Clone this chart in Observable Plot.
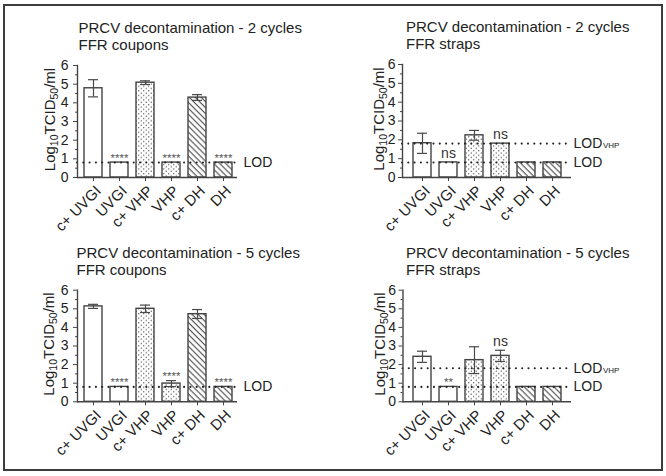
<!DOCTYPE html>
<html>
<head>
<meta charset="utf-8">
<script src="https://cdn.jsdelivr.net/npm/d3@7"></script>
<script src="https://cdn.jsdelivr.net/npm/@observablehq/plot@0.6"></script>
<style>
  body { margin: 0; background: #fff; }
  #chart { position: relative; width: 666px; height: 476px; overflow: hidden; background: #fff;
           font-family: "Liberation Sans", Arial, sans-serif; }
  #border { position: absolute; box-sizing: border-box; left: 3px; top: 4px; width: 660px; height: 467px;
            border: 2px solid #3c3c3c; }
  .panel { position: absolute; }
</style>
</head>
<body>
<svg width="0" height="0" style="position:absolute">
  <defs>
    <pattern id="dots" width="5" height="4.6" patternUnits="userSpaceOnUse">
      <rect width="5" height="4.6" fill="#fff"/>
      <circle cx="1.25" cy="1.15" r="0.65" fill="#444"/>
      <circle cx="3.75" cy="3.45" r="0.65" fill="#444"/>
    </pattern>
    <pattern id="hatch" width="4.2" height="4.2" patternUnits="userSpaceOnUse" patternTransform="rotate(-45)">
      <rect width="4.2" height="4.2" fill="#fff"/>
      <line x1="2" y1="0" x2="2" y2="4.2" stroke="#555" stroke-width="1.2"/>
    </pattern>
  </defs>
</svg>
<div id="chart"><div id="border"></div></div>
<script>
// ---- data ----
const categories = ["c+ UVGI", "UVGI", "c+ VHP", "VHP", "c+ DH", "DH"];
const kinds = ["open", "open", "dots", "dots", "hatch", "hatch"];
const yTicks = [0, 1, 2, 3, 4, 5, 6];
const yMinorTicks = [0.5, 1.5, 2.5, 3.5, 4.5, 5.5];
const LOD = 0.8;
const LOD_VHP = 1.8;

const coupons2Mean  = [4.78, 0.8, 5.08, 0.8, 4.28, 0.8];
const coupons2Low   = [4.32, null, 4.98, null, 4.13, null];
const coupons2High  = [5.24, null, 5.18, null, 4.44, null];
const coupons2Notes = ["", "****", "", "****", "", "****"];

const straps2Mean  = [1.82, 0.8, 2.24, 1.8, 0.8, 0.8];
const straps2Low   = [1.28, null, 1.98, null, null, null];
const straps2High  = [2.35, null, 2.5, null, null, null];
const straps2Notes = ["", "ns", "", "ns", "", ""];

const coupons5Mean  = [5.13, 0.8, 5.0, 0.98, 4.71, 0.8];
const coupons5Low   = [5.02, null, 4.8, 0.82, 4.48, null];
const coupons5High  = [5.24, null, 5.2, 1.14, 4.96, null];
const coupons5Notes = ["", "****", "", "****", "", "****"];

const straps5Mean  = [2.42, 0.8, 2.24, 2.47, 0.8, 0.8];
const straps5Low   = [2.12, null, 1.52, 2.17, null, null];
const straps5High  = [2.72, null, 2.96, 2.77, null, null];
const straps5Notes = ["", "**", "", "ns", "", ""];

const titles = [
  "PRCV decontamination - 2 cycles\nFFR coupons",
  "PRCV decontamination - 2 cycles\nFFR straps",
  "PRCV decontamination - 5 cycles\nFFR coupons",
  "PRCV decontamination - 5 cycles\nFFR straps"
];

// ---- layout (page pixels) ----
const FONT = '"Liberation Sans", Arial, sans-serif';
const panels = [
  {title: titles[0], mean: coupons2Mean, low: coupons2Low, high: coupons2High, notes: coupons2Notes, lods: [LOD],
   left: 0, top: 0, W: 325, H: 232, axisX: 77, xEnd: 237, barStart: 84, barEnd: 233, y6: 65, y0: 177,
   titleDx: 1, tickPad: 5, labelOff: 22, lodInset: -3, lodDx: 6},
  {title: titles[1], mean: straps2Mean, low: straps2Low, high: straps2High, notes: straps2Notes, lods: [LOD, LOD_VHP],
   left: 325, top: 0, W: 335, H: 232, axisX: 402, xEnd: 571, barStart: 412, barEnd: 562, y6: 64, y0: 177,
   titleDx: 3.5, tickPad: 3, labelOff: 18, lodInset: 0, lodDx: 2},
  {title: titles[2], mean: coupons5Mean, low: coupons5Low, high: coupons5High, notes: coupons5Notes, lods: [LOD],
   left: 0, top: 232, W: 325, H: 236, axisX: 77, xEnd: 237, barStart: 83, barEnd: 233, y6: 289.7, y0: 401.3,
   titleDx: -1, tickPad: 5, labelOff: 23, lodInset: -3, lodDx: 6},
  {title: titles[3], mean: straps5Mean, low: straps5Low, high: straps5High, notes: straps5Notes, lods: [LOD, LOD_VHP],
   left: 325, top: 232, W: 335, H: 236, axisX: 402.5, xEnd: 571, barStart: 412.5, barEnd: 562.5, y6: 289.7, y0: 401.3,
   titleDx: 3, tickPad: 3, labelOff: 18, lodInset: 0, lodDx: 2}
];

const ink = "#222";
const line = "#444";

function drawPanel(p) {
  const rows = categories.map((cat, i) => ({
    cat, kind: kinds[i], mean: p.mean[i], low: p.low[i], high: p.high[i], note: p.notes[i]
  }));
  const errs = rows.filter(d => d.low != null);
  const stars = rows.filter(d => d.note.startsWith("*"));
  const ns = rows.filter(d => d.note === "ns");
  const noteY = d => (d.high != null ? d.high : d.mean);
  const mL = p.axisX - p.left, mR = p.left + p.W - p.xEnd;
  const mT = p.y6 - p.top, mB = p.top + p.H - p.y0;

  const lodMarks = [];
  p.lods.forEach(v => {
    lodMarks.push(Plot.ruleY([v], {stroke: "#222", strokeWidth: 2.1, strokeDasharray: "0 6.3",
      strokeLinecap: "round", insetRight: p.lodInset}));
    lodMarks.push(Plot.text([v], {y: d => d, frameAnchor: "right", textAnchor: "start", dx: p.lodDx,
      text: () => "LOD", fontSize: 14, fill: ink}));
    if (v === LOD_VHP) {
      lodMarks.push(Plot.text([v], {y: d => d, frameAnchor: "right", textAnchor: "start", dx: p.lodDx + 29.5, dy: 2,
        text: () => "VHP", fontSize: 8, fill: ink}));
    }
  });

  const svg = Plot.plot({
    width: p.W, height: p.H,
    marginLeft: mL, marginRight: mR, marginTop: mT, marginBottom: mB,
    style: {fontFamily: FONT, fontSize: "14px", color: ink, background: "transparent", overflow: "visible"},
    x: {domain: categories, range: [p.barStart - p.left, p.barEnd - p.left], paddingInner: 0.3, paddingOuter: 0, label: null},
    y: {domain: [0, 6], label: null},
    marks: [
      Plot.axisY({ticks: yTicks, tickFormat: d3.format("d"), tickSize: 4, tickPadding: p.tickPad, fontSize: 14,
        stroke: line, fill: ink, label: null}),
      Plot.axisY({ticks: yMinorTicks, tickSize: 2, tickFormat: () => "", stroke: line, label: null}),
      Plot.axisX({tickSize: 4, tickFormat: () => "", stroke: line, label: null}),
      Plot.axisX({tickRotate: -45, tickSize: 0, tickPadding: 6, dx: 5, dy: 5, fontSize: 15, fill: ink, label: null}),
      Plot.barY(rows.filter(d => d.kind === "open"), {x: "cat", y: "mean", fill: "white", stroke: line, strokeWidth: 1.4}),
      Plot.barY(rows.filter(d => d.kind === "dots"), {x: "cat", y: "mean", fill: "url(#dots)", stroke: line, strokeWidth: 1.4}),
      Plot.barY(rows.filter(d => d.kind === "hatch"), {x: "cat", y: "mean", fill: "url(#hatch)", stroke: line, strokeWidth: 1.4}),
      ...lodMarks,
      Plot.ruleY([0], {stroke: line, strokeWidth: 1.4}),
      Plot.frame({anchor: "left", stroke: line, strokeWidth: 1.4}),
      Plot.ruleX(errs, {x: "cat", y1: "low", y2: "high", stroke: "#4a4a4a", strokeWidth: 1.2}),
      Plot.tickY(errs, {x: "cat", y: "high", insetLeft: 4, insetRight: 4, stroke: "#4a4a4a", strokeWidth: 1.2}),
      Plot.tickY(errs, {x: "cat", y: "low", insetLeft: 4, insetRight: 4, stroke: "#4a4a4a", strokeWidth: 1.2}),
      Plot.text(stars, {x: "cat", y: noteY, text: "note", lineAnchor: "bottom", dy: -1, fontSize: 11.5, fill: "#555"}),
      Plot.text(ns, {x: "cat", y: noteY, text: "note", lineAnchor: "bottom", dy: -4.5, fontSize: 14, fill: "#333"}),
      Plot.text([p.title], {frameAnchor: "top-left", textAnchor: "start", lineAnchor: "top", dx: p.titleDx, dy: -44.5,
        fontSize: 15, lineHeight: 1.15, fill: ink})
    ]
  });

  // y-axis title with subscripts
  const lx = mL - p.labelOff, ly = mT + (p.y0 - p.y6) / 2 - 1.5;
  const t = d3.select(svg).append("text")
    .attr("transform", `translate(${lx},${ly}) rotate(-90)`)
    .attr("text-anchor", "middle").attr("font-size", 15).attr("fill", ink)
    .attr("font-family", FONT);
  t.append("tspan").text("Log");
  t.append("tspan").attr("font-size", 10.5).attr("dy", 3).text("10");
  t.append("tspan").attr("dy", -3).text("TCID");
  t.append("tspan").attr("font-size", 10.5).attr("dy", 3).text("50");
  t.append("tspan").attr("dy", -3).text("/ml");

  svg.setAttribute("class", "panel");
  svg.style.left = p.left + "px";
  svg.style.top = p.top + "px";
  svg.style.position = "absolute";
  document.getElementById("chart").appendChild(svg);
}

panels.forEach(drawPanel);
</script>
</body>
</html>
